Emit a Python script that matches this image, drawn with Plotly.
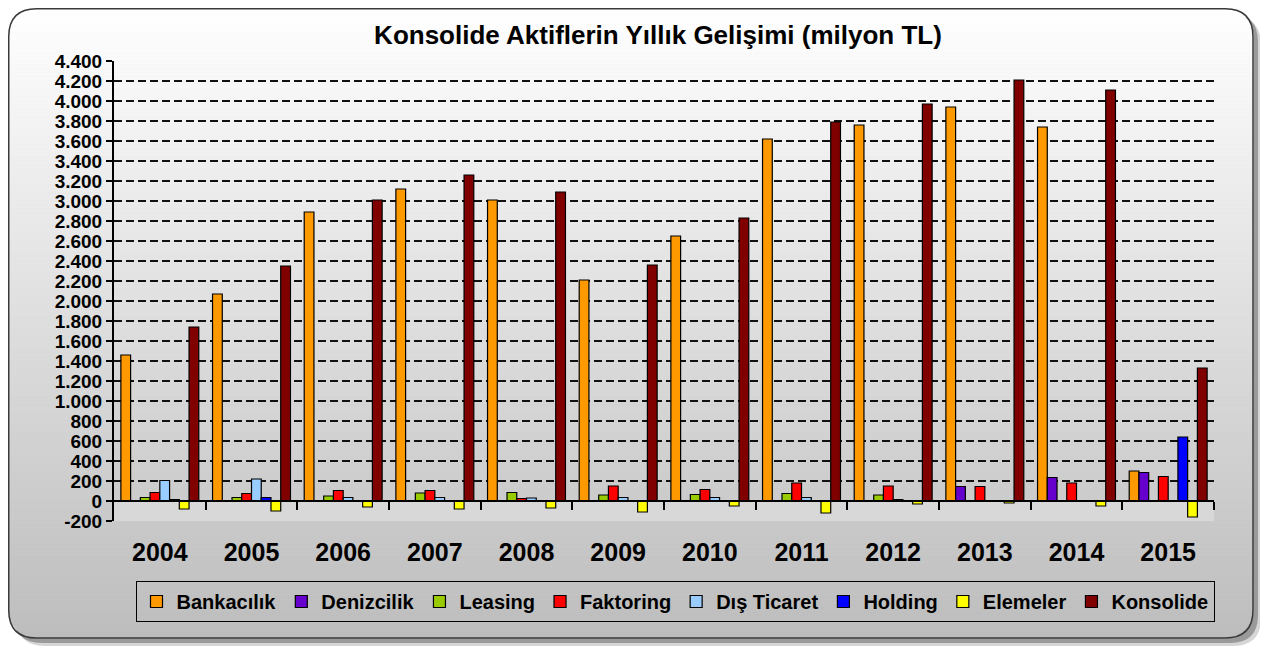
import math
import plotly.graph_objects as go

# ---------------- data ----------------
years = ["2004", "2005", "2006", "2007", "2008", "2009", "2010", "2011", "2012", "2013", "2014", "2015"]

bankacilik = [1460, 2070, 2890, 3120, 3010, 2210, 2650, 3620, 3760, 3940, 3740, 300]
denizcilik = [None, None, None, None, None, None, None, None, None, 145, 235, 285]
leasing = [35, 35, 50, 80, 85, 60, 65, 75, 60, None, None, None]
faktoring = [85, 75, 105, 105, 25, 150, 115, 180, 150, 145, 180, 245]
dis_ticaret = [205, 220, 35, 35, 30, 35, 35, 35, 15, None, None, None]
holding = [15, 35, None, None, None, None, None, None, None, None, None, 640]
elemeler = [-80, -100, -60, -80, -70, -110, -50, -120, -30, -20, -50, -160]
konsolide = [1740, 2350, 3010, 3260, 3090, 2360, 2830, 3790, 3970, 4210, 4110, 1330]

series_names = ["Bankacılık", "Denizcilik", "Leasing", "Faktoring", "Dış Ticaret", "Holding", "Elemeler", "Konsolide"]
series_values = [bankacilik, denizcilik, leasing, faktoring, dis_ticaret, holding, elemeler, konsolide]
series_colors = ["#FF9900", "#6600CC", "#99CC00", "#FF0000", "#99CCFF", "#0000FF", "#FFFF00", "#800000"]

y_tickvals = list(range(-200, 4401, 200))
y_ticktext = ["-200", "0", "200", "400", "600", "800", "1.000", "1.200", "1.400", "1.600", "1.800",
              "2.000", "2.200", "2.400", "2.600", "2.800", "3.000", "3.200", "3.400", "3.600",
              "3.800", "4.000", "4.200", "4.400"]

title_text = "Konsolide Aktiflerin Yıllık Gelişimi (milyon TL)"

# ---------------- layout geometry (pixels) ----------------
# the page body has an 8px margin, so the figure is drawn 8px in from the window edge
OFF = 8
W, H = 1268 - OFF, 646 - OFF
PLOT_L, PLOT_R, PLOT_T, PLOT_B = 114 - OFF, 1214 - OFF, 61 - OFF, 521 - OFF
ML, MR, MT, MB = PLOT_L, W - PLOT_R, PLOT_T, H - PLOT_B
PW, PH = W - ML - MR, H - MT - MB
FONT = "Liberation Sans, Arial, sans-serif"


def px2x(px):
    return (px - ML) / PW


def py2y(py):
    return (H - MB - py) / PH


# frame
X0, X1, Y0, Y1, R = 0.75, 1253 - OFF, 0.75, 638 - OFF, 28


def rounded_path(dx=0, dy=0):
    a, b, c, d = X0 + dx, X1 + dx, Y0 + dy, Y1 + dy
    pts = [
        ("M", [(a + R, c)]),
        ("L", [(b - R, c)]),
        ("Q", [(b, c), (b, c + R)]),
        ("L", [(b, d - R)]),
        ("Q", [(b, d), (b - R, d)]),
        ("L", [(a + R, d)]),
        ("Q", [(a, d), (a, d - R)]),
        ("L", [(a, c + R)]),
        ("Q", [(a, c), (a + R, c)]),
    ]
    s = ""
    for cmd, ps in pts:
        s += cmd + " ".join(f"{px2x(x):.6f},{py2y(y):.6f}" for x, y in ps) + " "
    return s + "Z"


def inset(y):
    if y < Y0 + R:
        dy = Y0 + R - y
    elif y > Y1 - R:
        dy = y - (Y1 - R)
    else:
        return 0.0
    dy = min(dy, R)
    return R - math.sqrt(max(R * R - dy * dy, 0))


shapes = []
# shadow
shapes.append(dict(type="path", xref="paper", yref="paper", path=rounded_path(8, 8),
                   fillcolor="#d6d6d6", line=dict(width=0), layer="below"))
shapes.append(dict(type="path", xref="paper", yref="paper", path=rounded_path(5, 5),
                   fillcolor="#9a9a9a", line=dict(width=0), layer="below"))
# gradient fill in strips
step = 4
ya = Y0
while ya < Y1:
    yb = min(ya + step, Y1)
    ym = (ya + yb) / 2
    g = int(round(255 - 66 * (ym - Y0) / (Y1 - Y0)))
    col = f"rgb({g},{g},{g})"
    ia, ib = inset(ya), inset(yb)
    p = (f"M{px2x(X0 + ia):.6f},{py2y(ya):.6f} L{px2x(X1 - ia):.6f},{py2y(ya):.6f} "
         f"L{px2x(X1 - ib):.6f},{py2y(yb):.6f} L{px2x(X0 + ib):.6f},{py2y(yb):.6f} Z")
    shapes.append(dict(type="path", xref="paper", yref="paper", path=p, fillcolor=col,
                       line=dict(color=col, width=1), layer="below"))
    ya = yb
# border
shapes.append(dict(type="path", xref="paper", yref="paper", path=rounded_path(),
                   fillcolor="rgba(0,0,0,0)", line=dict(color="#3a3a3a", width=1.5), layer="below"))
# floor (between -200 and 0)
shapes.append(dict(type="rect", xref="x domain", yref="y", x0=0, x1=1, y0=-200, y1=0,
                   fillcolor="#d8d8d8", line=dict(width=0), layer="below"))

fig = go.Figure()
for name, vals, col in zip(series_names, series_values, series_colors):
    fig.add_trace(go.Bar(
        name=name, x=years, y=vals,
        marker=dict(color=col, line=dict(color="#000000", width=1.2)),
    ))

# helper trace for the boundary-tick axis at the zero line
fig.add_trace(go.Scatter(x=[0], y=[0], xaxis="x2", yaxis="y", mode="markers",
                         marker=dict(opacity=0), showlegend=False, hoverinfo="skip"))

zero_pos = (0 - y_tickvals[0]) / (y_tickvals[-1] - y_tickvals[0])

fig.update_layout(
    width=W, height=H,
    margin=dict(l=ML, r=MR, t=MT, b=MB, autoexpand=False),
    paper_bgcolor="#ffffff",
    plot_bgcolor="rgba(0,0,0,0)",
    font=dict(family=FONT, color="#000000"),
    title=dict(text=title_text, x=(658 - OFF) / W, xanchor="center", xref="container",
               y=1 - (35 - OFF) / H, yanchor="middle", yref="container",
               font=dict(family=FONT, size=26, weight="bold", color="#000000")),
    barmode="group", bargap=0.15, bargroupgap=0,
    shapes=shapes,
    showlegend=True,
    legend=dict(orientation="h", xref="container", yref="container",
                x=(675 - OFF) / W, xanchor="center", y=1 - (581 - OFF) / H, yanchor="top",
                bgcolor="rgba(0,0,0,0)", bordercolor="#000000", borderwidth=1,
                font=dict(family=FONT, size=20, weight="bold", color="#000000"),
                traceorder="normal", itemclick=False),
    xaxis=dict(type="category", categoryorder="array", categoryarray=years,
               showline=False, ticks="", showgrid=False, zeroline=False,
               tickfont=dict(family=FONT, size=25, weight="bold", color="#000000"),
               ticklabelstandoff=14),
    xaxis2=dict(overlaying="x", anchor="free", position=zero_pos, range=[-0.5, len(years) - 0.5],
                tickmode="array", tickvals=[i + 0.5 for i in range(len(years))],
                ticks="outside", ticklen=8, tickwidth=1.5, tickcolor="#000000",
                showticklabels=False, showline=True, linecolor="#000000", linewidth=2,
                showgrid=False, zeroline=False, side="bottom"),
    yaxis=dict(range=[y_tickvals[0], y_tickvals[-1]], tickmode="array",
               tickvals=y_tickvals, ticktext=y_ticktext,
               showline=True, linecolor="#000000", linewidth=2,
               ticks="outside", ticklen=6, tickwidth=1.5, tickcolor="#000000",
               showgrid=True, gridcolor="#111111", gridwidth=2, griddash="8px,4px",
               zeroline=False,
               tickfont=dict(family=FONT, size=19, weight="bold", color="#000000")),
)

fig.write_html("out.html")
